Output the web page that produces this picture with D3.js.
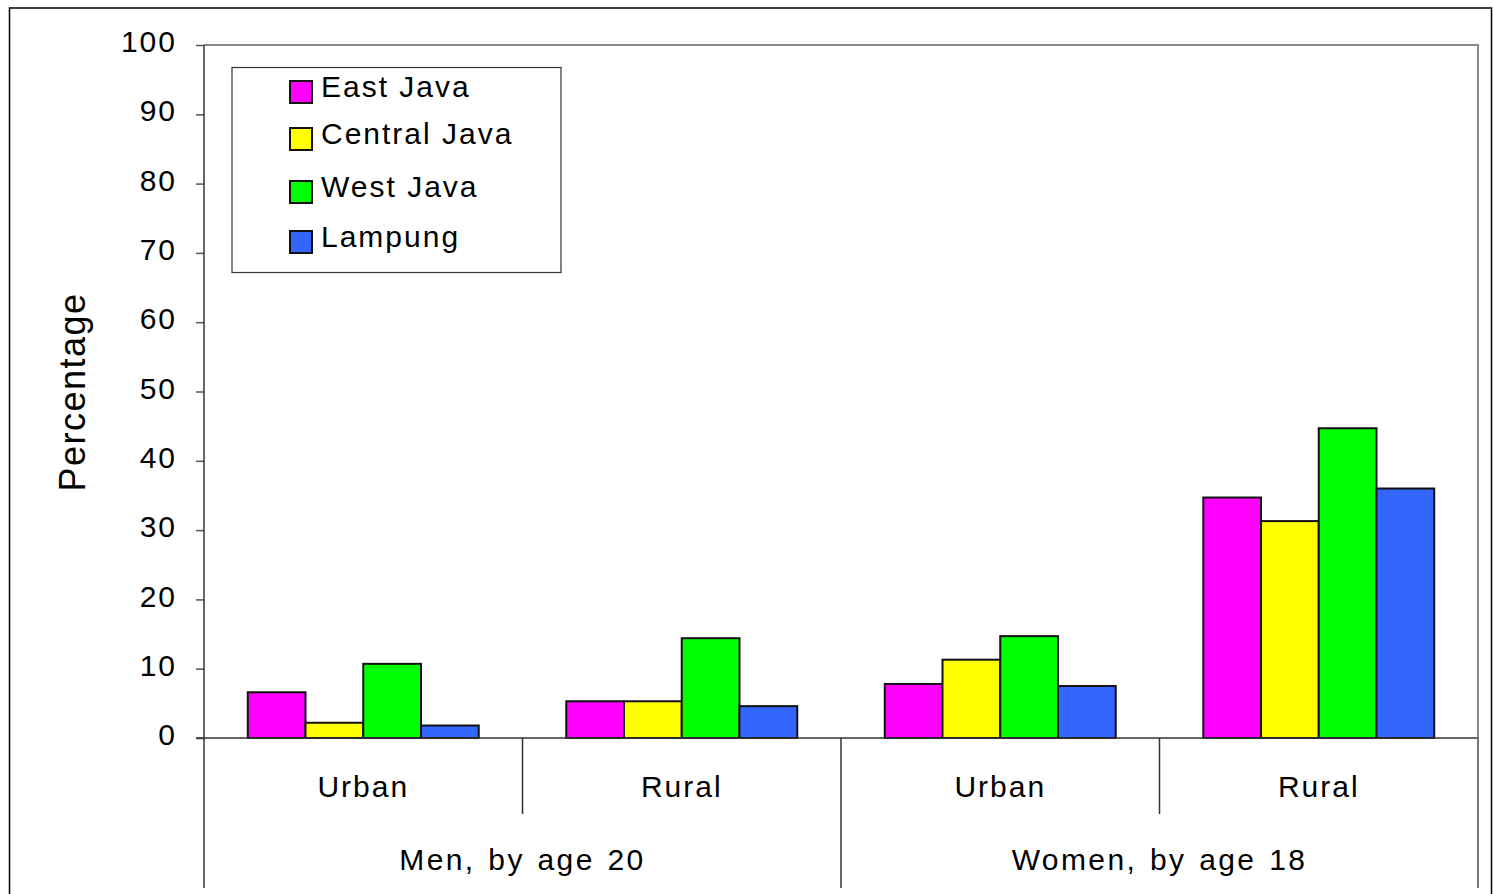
<!DOCTYPE html>
<html>
<head>
<meta charset="utf-8">
<script src="https://cdn.jsdelivr.net/npm/d3@7"></script>
<style>
  html, body { margin: 0; padding: 0; background: #fff; }
  svg { display: block; }
  text { font-family: "Liberation Sans", Arial, sans-serif; fill: #000; }
</style>
</head>
<body>
<svg id="chart" width="1493" height="894"></svg>
<script>
// ---- Data ----
const seriesNames = ["East Java", "Central Java", "West Java", "Lampung"];
const seriesColors = ["#FF00FF", "#FFFF00", "#00FF00", "#3366FF"];
const subCategories = ["Urban", "Rural", "Urban", "Rural"];
const groupLabels = ["Men, by age 20", "Women, by age 18"];
const eastJava = [6.6, 5.3, 7.8, 34.7];
const centralJava = [2.2, 5.3, 11.3, 31.3];
const westJava = [10.7, 14.4, 14.7, 44.7];
const lampung = [1.8, 4.6, 7.5, 36.0];
const yTicks = [0, 10, 20, 30, 40, 50, 60, 70, 80, 90, 100];

const seriesValues = [eastJava, centralJava, westJava, lampung];

// ---- Layout ----
const svg = d3.select("#chart");
const plotLeft = 204, plotRight = 1478, plotTop = 45, plotBottom = 738;

// outer frame
svg.append("rect").attr("x", 9.5).attr("y", 8).attr("width", 1482).attr("height", 900)
  .attr("fill", "none").attr("stroke", "#000").attr("stroke-width", 1.5);

const y = d3.scaleLinear().domain([0, 100]).range([plotBottom, plotTop]);
const x0 = d3.scaleBand().domain(d3.range(subCategories.length)).range([plotLeft, plotRight]).padding(0);
const x1 = d3.scaleBand().domain(d3.range(seriesNames.length)).range([0, x0.bandwidth()])
  .paddingInner(0).paddingOuter(0.758);

// plot frame top/right (gray)
svg.append("path")
  .attr("d", `M${plotLeft},${plotTop}H${plotRight}V${plotBottom}`)
  .attr("fill", "none").attr("stroke", "#8a8a8a").attr("stroke-width", 2);

// y axis
const yAxis = d3.axisLeft(y).tickValues(yTicks).tickSize(8).tickPadding(19);
const gy = svg.append("g").attr("transform", `translate(${plotLeft},0)`).call(yAxis);
gy.select(".domain").remove();
gy.selectAll(".tick line").attr("stroke", "#555").attr("stroke-width", 1.5);
gy.selectAll(".tick text")
  .style("font-family", '"Liberation Sans", Arial, sans-serif')
  .style("font-size", "30px").style("letter-spacing", "2px")
  .attr("fill", "#000").attr("dy", "0.22em");
svg.append("line").attr("x1", plotLeft).attr("x2", plotLeft).attr("y1", plotTop).attr("y2", 888)
  .attr("stroke", "#333").attr("stroke-width", 1.5);

// bars
const gBars = svg.append("g");
subCategories.forEach((cat, ci) => {
  seriesValues.forEach((vals, si) => {
    gBars.append("rect")
      .attr("x", x0(ci) + x1(si))
      .attr("y", y(vals[ci]))
      .attr("width", x1.bandwidth())
      .attr("height", y(0) - y(vals[ci]))
      .attr("fill", seriesColors[si])
      .attr("stroke", "#111").attr("stroke-width", 2);
  });
});

// baseline
svg.append("line").attr("x1", plotLeft - 8).attr("x2", plotRight).attr("y1", y(0)).attr("y2", y(0))
  .attr("stroke", "#333").attr("stroke-width", 1.5);

// category separators + labels
subCategories.forEach((cat, ci) => {
  const xl = x0(ci);
  const long = ci % 2 === 0;
  if (ci > 0) {
    svg.append("line").attr("x1", xl).attr("x2", xl).attr("y1", y(0)).attr("y2", long ? 888 : 814)
      .attr("stroke", "#333").attr("stroke-width", 1.5);
  }
  svg.append("text")
    .attr("x", xl + x0.bandwidth() / 2).attr("y", 797)
    .attr("text-anchor", "middle")
    .style("font-size", "30px").style("letter-spacing", "2px")
    .text(cat);
});
svg.append("line").attr("x1", plotRight).attr("x2", plotRight).attr("y1", y(0)).attr("y2", 888)
  .attr("stroke", "#777").attr("stroke-width", 2);

groupLabels.forEach((g, gi) => {
  const xs = x0(gi * 2);
  svg.append("text")
    .attr("x", xs + x0.bandwidth()).attr("y", 870)
    .attr("text-anchor", "middle")
    .style("font-size", "30px").style("letter-spacing", "2.4px").style("word-spacing", "2px")
    .text(g);
});

// y title
svg.append("text")
  .attr("transform", "translate(85,392) rotate(-90)")
  .attr("text-anchor", "middle")
  .style("font-size", "36px").style("letter-spacing", "1.5px")
  .text("Percentage");

// legend
const lg = svg.append("g");
lg.append("rect").attr("x", 232).attr("y", 67.5).attr("width", 329).attr("height", 205)
  .attr("fill", "#fff").attr("stroke", "#333").attr("stroke-width", 1.2);
const legendBaselines = [97, 144, 197, 247];
seriesNames.forEach((name, i) => {
  const b = legendBaselines[i];
  lg.append("rect").attr("x", 290).attr("y", b - 16).attr("width", 22).attr("height", 22)
    .attr("fill", seriesColors[i]).attr("stroke", "#111").attr("stroke-width", 2);
  lg.append("text").attr("x", 321).attr("y", b)
    .style("font-size", "30px").style("letter-spacing", "2px")
    .text(name);
});
</script>
</body>
</html>
